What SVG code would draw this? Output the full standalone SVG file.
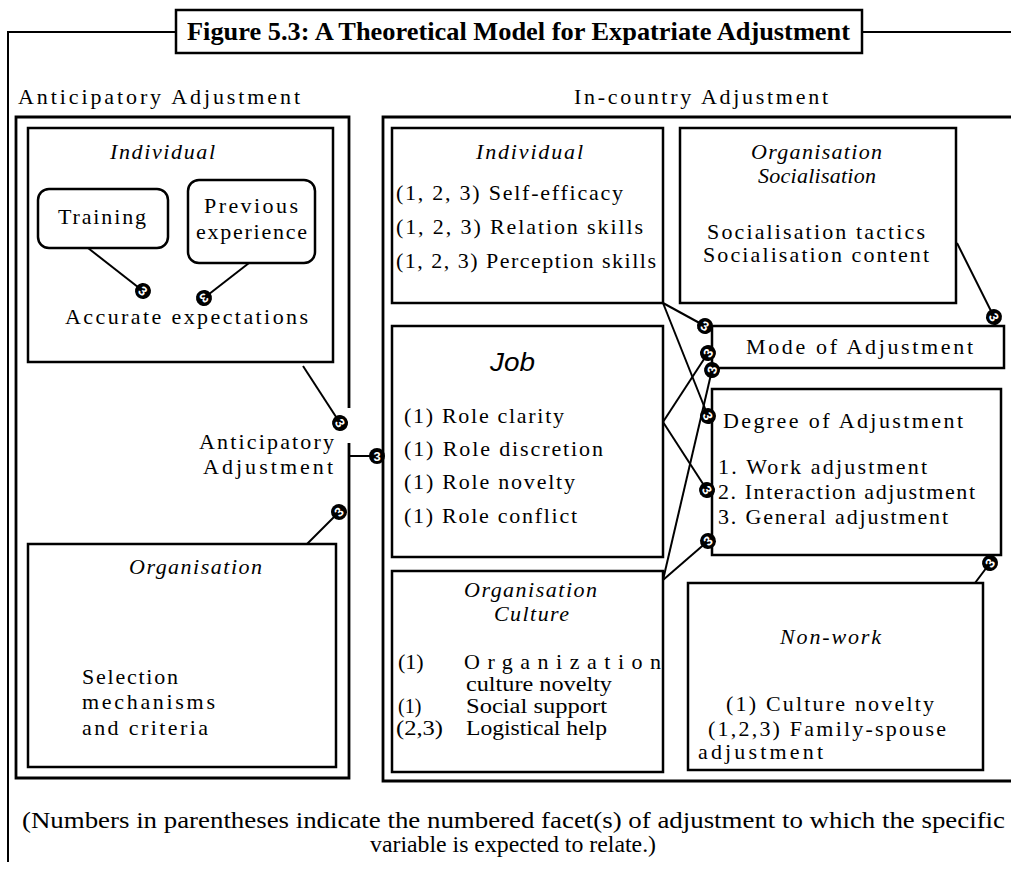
<svg xmlns="http://www.w3.org/2000/svg" xmlns:xlink="http://www.w3.org/1999/xlink" width="1011" height="870" viewBox="0 0 1011 870">
<style>
.bg{fill:#fff}
.box{fill:#fff;stroke:#000;stroke-width:2.5}
.frame{fill:none;stroke:#000;stroke-width:2}
.wall{fill:none;stroke:#000;stroke-width:2.8}
.t{font-family:"Liberation Serif",serif;font-size:22px;fill:#000}
.c{font-family:"Liberation Serif",serif;font-size:20px;fill:#000}
.i{font-style:italic}
.sans{font-family:"Liberation Sans",Arial,sans-serif;font-style:italic;font-size:26px;fill:#000}
.title{font-family:"Liberation Serif",serif;font-weight:bold;font-size:26px;fill:#000}
.note{font-family:"Liberation Serif",serif;font-size:24px;fill:#000}
.conn line{stroke:#000;stroke-width:2}
.kt{font-family:"Liberation Sans",Arial,sans-serif;font-weight:bold;font-size:13px;fill:#fff}
</style>
<defs>
<g id="knot"><circle r="8" fill="#000"/><text class="kt" x="0" y="4.6" text-anchor="middle">3</text></g>
</defs>
<rect class="bg" x="0" y="0" width="1011" height="870"/>

<g id="frame">
<path class="frame" d="M176,32 H8 V862 M862,32 H1013"/>
</g>

<g id="title">
<rect class="box" x="176" y="10" width="686" height="43"/>
<text class="title" x="187" y="40" textLength="663" lengthAdjust="spacingAndGlyphs">Figure 5.3: A Theoretical Model for Expatriate Adjustment</text>
</g>

<g id="anticipatory-section">
<text class="t" x="18" y="104" textLength="282" lengthAdjust="spacing">Anticipatory Adjustment</text>
<path class="wall" d="M349,408 V117 H16 V778 H349 V443"/>
</g>

<g id="incountry-section">
<text class="t" x="574" y="104" textLength="254" lengthAdjust="spacing">In-country Adjustment</text>
<path class="wall" d="M1013,117 H383 V781 H1013"/>
</g>

<g id="ant-individual">
<rect class="box" x="28" y="128" width="305" height="234"/>
<text class="t i" x="110" y="159" textLength="105" lengthAdjust="spacing">Individual</text>
<text class="t" x="65" y="324" textLength="243" lengthAdjust="spacing">Accurate expectations</text>
</g>

<g id="training">
<rect class="box" x="38" y="189" width="130" height="59" rx="11"/>
<text class="t" x="58" y="224" textLength="88" lengthAdjust="spacing">Training</text>
</g>

<g id="previous-experience">
<rect class="box" x="188" y="180" width="127" height="83" rx="11"/>
<text class="t" x="204" y="213" textLength="94" lengthAdjust="spacing">Previous</text>
<text class="t" x="196" y="239" textLength="111" lengthAdjust="spacing">experience</text>
</g>

<g id="ant-organisation">
<rect class="box" x="28" y="544" width="308" height="223"/>
<text class="t i" x="129" y="574" textLength="133" lengthAdjust="spacing">Organisation</text>
<text class="t" x="82" y="684" textLength="96" lengthAdjust="spacing">Selection</text>
<text class="t" x="82" y="709" textLength="133" lengthAdjust="spacing">mechanisms</text>
<text class="t" x="82" y="735" textLength="126" lengthAdjust="spacing">and criteria</text>
</g>

<g id="ant-adjustment">
<text class="t" x="199" y="449" textLength="135" lengthAdjust="spacing">Anticipatory</text>
<text class="t" x="203" y="474" textLength="130" lengthAdjust="spacing">Adjustment</text>
</g>

<g id="ic-individual">
<rect class="box" x="392" y="128" width="271" height="175"/>
<text class="t i" x="476" y="159" textLength="107" lengthAdjust="spacing">Individual</text>
<text class="t" x="396" y="200" textLength="227" lengthAdjust="spacing">(1, 2, 3) Self-efficacy</text>
<text class="t" x="396" y="234" textLength="247" lengthAdjust="spacing">(1, 2, 3) Relation skills</text>
<text class="t" x="396" y="268" textLength="260" lengthAdjust="spacing">(1, 2, 3) Perception skills</text>
</g>

<g id="org-socialisation">
<rect class="box" x="680" y="128" width="276" height="175"/>
<text class="t i" x="751" y="159" textLength="131" lengthAdjust="spacing">Organisation</text>
<text class="t i" x="758" y="183" textLength="118" lengthAdjust="spacing">Socialisation</text>
<text class="t" x="707" y="239" textLength="218" lengthAdjust="spacing">Socialisation tactics</text>
<text class="t" x="703" y="262" textLength="226" lengthAdjust="spacing">Socialisation content</text>
</g>

<g id="mode">
<rect class="box" x="712" y="326" width="292" height="42"/>
<text class="t" x="746" y="354" textLength="227" lengthAdjust="spacing">Mode of Adjustment</text>
</g>

<g id="job">
<rect class="box" x="392" y="326" width="271" height="231"/>
<text class="sans" x="490" y="371" textLength="45" lengthAdjust="spacingAndGlyphs">Job</text>
<text class="t" x="404" y="423" textLength="160" lengthAdjust="spacing">(1) Role clarity</text>
<text class="t" x="404" y="456" textLength="199" lengthAdjust="spacing">(1) Role discretion</text>
<text class="t" x="404" y="489" textLength="171" lengthAdjust="spacing">(1) Role novelty</text>
<text class="t" x="404" y="523" textLength="173" lengthAdjust="spacing">(1) Role conflict</text>
</g>

<g id="degree">
<rect class="box" x="712" y="389" width="289" height="166"/>
<text class="t" x="723" y="428" textLength="240" lengthAdjust="spacing">Degree of Adjustment</text>
<text class="t" x="718" y="474" textLength="209" lengthAdjust="spacing">1. Work adjustment</text>
<text class="t" x="718" y="499" textLength="257" lengthAdjust="spacing">2. Interaction adjustment</text>
<text class="t" x="718" y="524" textLength="230" lengthAdjust="spacing">3. General adjustment</text>
</g>

<g id="org-culture">
<rect class="box" x="392" y="571" width="271" height="201"/>
<text class="t i" x="464" y="597" textLength="133" lengthAdjust="spacing">Organisation</text>
<text class="t i" x="494" y="621" textLength="75" lengthAdjust="spacing">Culture</text>
<text class="t" x="398" y="669">(1)</text>
<text class="t" x="464" y="669" textLength="197" lengthAdjust="spacing">Organization</text>
<text class="c" x="466" y="691" textLength="146" lengthAdjust="spacingAndGlyphs">culture novelty</text>
<text class="c" x="398" y="713">(1)</text>
<text class="c" x="466" y="713" textLength="141" lengthAdjust="spacingAndGlyphs">Social support</text>
<text class="c" x="396" y="735" textLength="47" lengthAdjust="spacingAndGlyphs">(2,3)</text>
<text class="c" x="466" y="735" textLength="141" lengthAdjust="spacingAndGlyphs">Logistical help</text>
</g>

<g id="non-work">
<rect class="box" x="688" y="583" width="295" height="187"/>
<text class="t i" x="780" y="644" textLength="101" lengthAdjust="spacing">Non-work</text>
<text class="t" x="726" y="711" textLength="208" lengthAdjust="spacing">(1) Culture novelty</text>
<text class="t" x="708" y="736" textLength="238" lengthAdjust="spacing">(1,2,3) Family-spouse</text>
<text class="t" x="698" y="759" textLength="125" lengthAdjust="spacing">adjustment</text>
</g>

<g id="connectors" class="conn">
<line x1="88" y1="248" x2="143" y2="291"/>
<line x1="249" y1="263" x2="204" y2="298"/>
<line x1="303" y1="366" x2="340" y2="423"/>
<line x1="307" y1="544" x2="339" y2="512"/>
<line x1="349" y1="456" x2="377" y2="456"/>
<line x1="957" y1="243" x2="994" y2="317"/>
<line x1="975" y1="583" x2="990" y2="563"/>
<line x1="663" y1="303" x2="705" y2="326"/>
<line x1="663" y1="303" x2="708" y2="416"/>
<line x1="663" y1="422" x2="708" y2="353"/>
<line x1="663" y1="422" x2="707" y2="490"/>
<line x1="663" y1="580" x2="712" y2="370"/>
<line x1="663" y1="580" x2="708" y2="541"/>
<use xlink:href="#knot" transform="translate(143,291) rotate(39)"/>
<use xlink:href="#knot" transform="translate(204,298) rotate(144)"/>
<use xlink:href="#knot" transform="translate(340,423) rotate(57)"/>
<use xlink:href="#knot" transform="translate(339,512) rotate(-44)"/>
<use xlink:href="#knot" transform="translate(377,456)"/>
<use xlink:href="#knot" transform="translate(994,317) rotate(63)"/>
<use xlink:href="#knot" transform="translate(990,563) rotate(-53)"/>
<use xlink:href="#knot" transform="translate(705,326) rotate(29)"/>
<use xlink:href="#knot" transform="translate(708,416) rotate(68)"/>
<use xlink:href="#knot" transform="translate(708,353) rotate(-57)"/>
<use xlink:href="#knot" transform="translate(707,490) rotate(57)"/>
<use xlink:href="#knot" transform="translate(712,370) rotate(-77)"/>
<use xlink:href="#knot" transform="translate(708,541) rotate(-41)"/>
</g>

<g id="footnote">
<text class="note" x="22" y="828" textLength="983" lengthAdjust="spacingAndGlyphs">(Numbers in parentheses indicate the numbered facet(s) of adjustment to which the specific</text>
<text class="note" x="370" y="852" textLength="286" lengthAdjust="spacingAndGlyphs">variable is expected to relate.)</text>
</g>
</svg>
